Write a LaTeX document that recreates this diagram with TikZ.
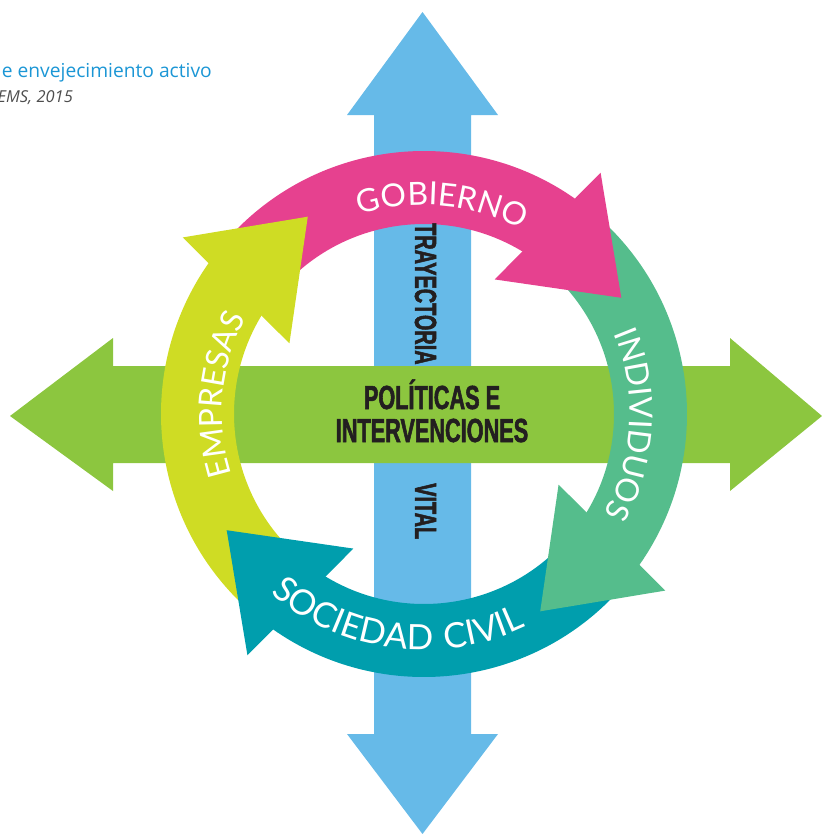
\documentclass[tikz,border=0pt]{standalone}
\usepackage{fontspec}
\setmainfont{Open Sans}
\newfontfamily\ringfont[LetterSpace=5]{Lato}
\newfontfamily\ringwide[LetterSpace=10]{Lato}
\newfontfamily\condb[FakeStretch=0.65, FakeBold=1.6]{Liberation Sans Bold}
\usetikzlibrary{calc,decorations.text}
\definecolor{cpink}{HTML}{E6418F}
\definecolor{cgreen}{HTML}{55BD8C}
\definecolor{cteal}{HTML}{009EAD}
\definecolor{cyellow}{HTML}{CFDC24}
\definecolor{cbar}{HTML}{8CC63F}
\definecolor{cblue}{HTML}{66BAE8}
\definecolor{ctitle}{HTML}{1B96D5}
\definecolor{cgrey}{HTML}{4D4D4D}
\definecolor{cdark}{HTML}{231F20}
\newcommand\ringtxt{\ringfont\fontsize{32}{32}\selectfont\color{white}}
\newcommand\ringtxtwide{\ringwide\fontsize{35}{35}\selectfont\color{white}}
\tikzset{
  bigtxt/.style={font=\condb\fontsize{33.5}{34}\selectfont, text=cdark, inner sep=0pt},
  lifetxt/.style={font=\condb\fontsize{30.7}{31}\selectfont, text=cdark, inner sep=0pt, rotate=-90, anchor=base west},
  ringlabel/.style={decorate, decoration={text along path, text align=center, text={#1}}}
}
\begin{document}
\begin{tikzpicture}[x=1bp,y=1bp]
\useasboundingbox (0,0) rectangle (822,-834);
\coordinate (C) at (424,-414);
% vertical blue arrow
\fill[cblue] (422.5,-12) -- (498,-115) -- (471,-115) -- (471,-734) -- (498,-734) -- (422.5,-834) -- (347,-734) -- (374,-734) -- (374,-115) -- (347,-115) -- cycle;
% horizontal green arrow
\fill[cbar] (10,-416) -- (113,-338) -- (113,-366) -- (730,-366) -- (730,-338) -- (822,-416) -- (730,-491) -- (730,-463) -- (113,-463) -- (113,-491) -- cycle;
% ring arrow bodies
\foreach \t/\col in {30.5/cpink,-59.5/cgreen,-149.5/cteal,120.5/cyellow}{
  \fill[\col] ($(C)+(\t+22:263)$) arc[start angle=\t+22, end angle=\t+110, radius=263]
    -- ($(C)+(\t+110:190)$) arc[start angle=\t+110, end angle=\t+22, radius=190] -- cycle;
}
% ring arrow heads
\foreach \t/\col in {30.5/cpink,-59.5/cgreen,-149.5/cteal,120.5/cyellow}{
  \fill[\col] ($(C)+(\t:229)$) -- ($(C)+(\t+23.3:299)$) -- ($(C)+(\t+31.8:152)$) -- cycle;
}
% ring labels
\path[ringlabel={|\ringtxt|GOBIERNO}] ($(C)+(135:209)$) arc[start angle=135, end angle=35, radius=209];
\path[ringlabel={|\ringtxt|INDIVIDUOS}] ($(C)+(43:206)$) arc[start angle=43, end angle=-49, radius=206];
\path[ringlabel={|\ringtxtwide|SOCIEDAD CIVIL}] ($(C)+(210:236)$) arc[start angle=210, end angle=315, radius=236];
\path[ringlabel={|\ringtxt|EMPRESAS}] ($(C)+(220:202)$) arc[start angle=220, end angle=129, radius=202];
% centre texts
\node[bigtxt, anchor=base] (pol1) at (432,-409) {POLÍTICAS E};
\node[bigtxt, anchor=base] (pol2) at (432,-442) {INTERVENCIONES};
\node[lifetxt] (tray) at (415,-223) {TRAYECTORIA};
\node[lifetxt] (vital) at (415,-483) {VITAL};
% title fragment
\node[anchor=base east, inner sep=0pt, text=ctitle, font=\fontsize{19.3}{21}\selectfont] (title) at (212,-77) {e envejecimiento activo};
\node[anchor=base east, inner sep=0pt, text=cgrey, font=\itshape\fontsize{16.5}{18}\selectfont] (source) at (73,-102) {EMS, 2015};
\end{tikzpicture}
\end{document}
